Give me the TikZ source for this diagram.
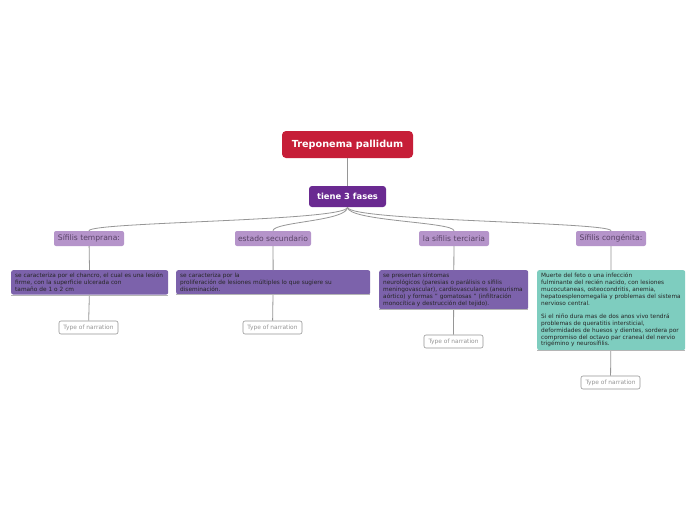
\documentclass[tikz,border=0pt]{standalone}
\usepackage{fontspec}
\setmainfont{DejaVu Sans}
\usetikzlibrary{calc}
\definecolor{maproot}{RGB}{198,30,56}
\definecolor{mapmain}{RGB}{106,42,145}
\definecolor{mapphase}{RGB}{181,148,202}
\definecolor{mapphtext}{RGB}{88,66,102}
\definecolor{mapbox}{RGB}{124,98,171}
\definecolor{mapteal}{RGB}{126,205,191}
\definecolor{mapline}{RGB}{150,150,150}
\tikzset{
  rootbx/.style={fill=maproot, rounded corners=4pt, text=white,
                 minimum width=131pt, minimum height=27pt,
                 font=\fontsize{9.7}{11}\selectfont\bfseries},
  mainbx/.style={fill=mapmain, rounded corners=3pt, text=white,
                 minimum width=77pt, minimum height=21pt,
                 font=\fontsize{8.4}{10}\selectfont\bfseries},
  phasebx/.style={fill=mapphase, rounded corners=2pt, text=mapphtext,
                  minimum width=#1, minimum height=15pt, inner sep=1pt,
                  font=\fontsize{7.6}{9}\selectfont},
  descbx/.style={fill=mapbox, rounded corners=2pt, text=black!85,
                 text width=#1, align=left, inner xsep=4pt, inner ysep=3pt,
                 font=\fontsize{5.8}{6.8}\selectfont},
  tealbx/.style={descbx=#1, fill=mapteal},
  narrbx/.style={draw=mapline, fill=white, rounded corners=2pt, text=mapline,
                 minimum width=59pt, minimum height=13pt, inner sep=1pt,
                 line width=0.6pt, font=\fontsize{5.9}{7}\selectfont},
  conn/.style={draw=mapline, line width=0.8pt},
}
\begin{document}
\begin{tikzpicture}[x=1pt, y=-1pt]
  \useasboundingbox[fill=white] (0,0) rectangle (696,520);

  % centre
  \node[rootbx] (root) at (347.5,144.5) {Treponema pallidum};
  \node[mainbx] (fases) at (347.5,196.5) {tiene 3 fases};

  % phases
  \node[phasebx=70pt] (temp) at (89,238.5)  {Sífilis temprana:};
  \node[phasebx=76pt] (sec)  at (273,238.5) {estado secundario};
  \node[phasebx=70pt] (ter)  at (454,238.5) {la sífilis terciaria};
  \node[phasebx=70pt] (con)  at (611,238.5) {Sífilis congénita:};

  % descriptions
  \node[descbx=149pt, anchor=north west] (dtemp) at (11,270)
    {se caracteriza por el chancro, el cual es una lesión\\
     firme, con la superficie ulcerada con\\
     tamaño de 1 o 2 cm};
  \node[descbx=186pt, anchor=north west] (dsec) at (176,270)
    {se caracteriza por la\\
     proliferación de lesiones múltiples lo que sugiere su\\
     diseminación.};
  \node[descbx=141pt, anchor=north west] (dter) at (379,270)
    {se presentan síntomas\\
     neurológicos (paresias o parálisis o sífilis\\
     meningovascular), cardiovasculares (aneurisma\\
     aórtico) y formas " gomatosas " (infiltración\\
     monocítica y destrucción del tejido).};
  \node[tealbx=140pt, anchor=north west] (dcon) at (537,270)
    {Muerte del feto o una infección\\
     fulminante del recién nacido, con lesiones\\
     mucocutaneas, osteocondritis, anemia,\\
     hepatoesplenomegalia y problemas del sistema\\
     nervioso central.\\[6.8pt]
     Si el niño dura mas de dos anos vivo tendrá\\
     problemas de queratitis intersticial,\\
     deformidades de huesos y dientes, sordera por\\
     compromiso del octavo par craneal del nervio\\
     trigémino y neurosífilis.};

  % narration tags
  \node[narrbx] (ntemp) at (88.5,327.5)  {Type of narration};
  \node[narrbx] (nsec)  at (272.5,327.5) {Type of narration};
  \node[narrbx] (nter)  at (453.5,341.5) {Type of narration};
  \node[narrbx] (ncon)  at (610.5,382.5) {Type of narration};

  % connectors
  \draw[conn] (root) -- (fases);
  \foreach \ph in {temp, sec, ter, con} {
    \draw[conn] (fases.south) .. controls ($(fases.south)+(0,14)$)
      and ($(\ph.north)+(0,-9)$) .. (\ph.north);
    \draw[conn] (\ph) -- (d\ph);
    \draw[conn] (d\ph) -- (n\ph);
    \draw[draw=mapline!70, line width=0.6pt]
      ($(d\ph.south west)+(0,0.3)$) -- ($(d\ph.south east)+(0,0.3)$);
  }
\end{tikzpicture}
\end{document}
